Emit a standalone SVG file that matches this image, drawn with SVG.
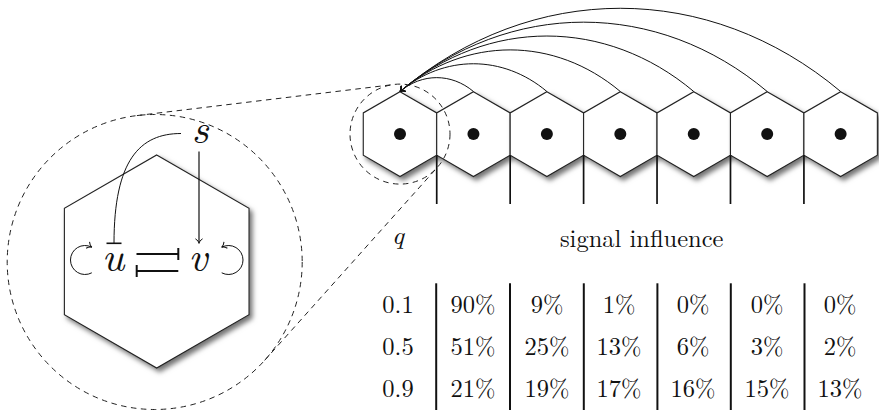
<svg xmlns="http://www.w3.org/2000/svg" width="879" height="412" viewBox="0 0 879 412">
<style>
.hex{fill:#fff;stroke:#222;stroke-width:1.1}
.dash{fill:none;stroke:#222;stroke-width:1;stroke-dasharray:5.5 4.5}
.arc{fill:none;stroke:#111;stroke-width:1}
.thick{stroke:#111;stroke-width:2;fill:none}
.tick{stroke:#111;stroke-width:1.7}
.t{font-family:"Latin Modern Roman","CMU Serif","Nimbus Roman","FreeSerif","Tinos","Times New Roman","Liberation Serif","DejaVu Serif",serif;fill:#111}
.m{font-style:italic}
.big{font-size:42px;text-anchor:middle}
.cell{font-size:24.5px;text-anchor:middle}
</style>
<defs>
<filter id="sh" x="-20%" y="-20%" width="150%" height="150%">
<feDropShadow dx="3" dy="3.5" stdDeviation="2.5" flood-color="#000" flood-opacity="0.55"/>
</filter>
<polygon id="hx" points="0,-42.4 36.72,-21.2 36.72,21.2 0,42.4 -36.72,21.2 -36.72,-21.2"/>
<marker id="ar" markerUnits="userSpaceOnUse" markerWidth="12" markerHeight="12" viewBox="-6 -6 12 12" refX="0" refY="0" orient="auto">
<path d="M-4.5,-3.6 C-3,-1.2 -1.2,-0.3 0,0 C-1.2,0.3 -3,1.2 -4.5,3.6" fill="none" stroke="#111" stroke-width="1"/>
</marker>
</defs>

<!-- enlarged cell -->
<g id="cell-big">
<polygon class="hex" filter="url(#sh)" points="156.7,154.9 249.02,208.2 249.02,314.8 156.7,368.1 64.38,314.8 64.38,208.2"/>
</g>
<g id="node-s"><text class="t m big" x="200" y="143">s</text></g>
<g id="node-u"><text class="t m big" x="113" y="271">u</text></g>
<g id="node-v"><text class="t m big" x="198" y="271">v</text></g>

<!-- row of cells -->
<g id="cells">
<g id="cell0"><use href="#hx" class="hex" filter="url(#sh)" transform="translate(400,134.1)"/><circle cx="400" cy="134.1" r="6" fill="#111"/></g>
<g id="cell1"><use href="#hx" class="hex" filter="url(#sh)" transform="translate(473.44,134.1)"/><circle cx="473.44" cy="134.1" r="6" fill="#111"/></g>
<g id="cell2"><use href="#hx" class="hex" filter="url(#sh)" transform="translate(546.88,134.1)"/><circle cx="546.88" cy="134.1" r="6" fill="#111"/></g>
<g id="cell3"><use href="#hx" class="hex" filter="url(#sh)" transform="translate(620.32,134.1)"/><circle cx="620.32" cy="134.1" r="6" fill="#111"/></g>
<g id="cell4"><use href="#hx" class="hex" filter="url(#sh)" transform="translate(693.76,134.1)"/><circle cx="693.76" cy="134.1" r="6" fill="#111"/></g>
<g id="cell5"><use href="#hx" class="hex" filter="url(#sh)" transform="translate(767.2,134.1)"/><circle cx="767.2" cy="134.1" r="6" fill="#111"/></g>
<g id="cell6"><use href="#hx" class="hex" filter="url(#sh)" transform="translate(840.64,134.1)"/><circle cx="840.64" cy="134.1" r="6" fill="#111"/></g>
</g>

<!-- zoom circles and tangent lines -->
<g id="zoom">
<circle class="dash" cx="154.7" cy="262" r="147.5"/>
<circle class="dash" cx="400" cy="134.1" r="50"/>
<line class="dash" x1="136.9" y1="115.6" x2="394" y2="84.5"/>
<line class="dash" x1="264.6" y1="360.4" x2="437.3" y2="167.4"/>
</g>

<!-- dividers under cells -->
<g id="ticks">
<line class="tick" x1="436.72" y1="155.3" x2="436.72" y2="204"/>
<line class="tick" x1="510.16" y1="155.3" x2="510.16" y2="204"/>
<line class="tick" x1="583.6" y1="155.3" x2="583.6" y2="204"/>
<line class="tick" x1="657.04" y1="155.3" x2="657.04" y2="204"/>
<line class="tick" x1="730.48" y1="155.3" x2="730.48" y2="204"/>
<line class="tick" x1="803.92" y1="155.3" x2="803.92" y2="204"/>
</g>

<!-- connectors -->
<g id="connectors">
<path class="arc" marker-end="url(#ar)" d="M473.44,91.5 C451.42,73.01 422.02,73.01 400,91.5"/>
<path class="arc" marker-end="url(#ar)" d="M546.88,91.5 C502.84,54.52 444.04,54.52 400,91.5"/>
<path class="arc" marker-end="url(#ar)" d="M620.32,91.5 C554.26,36.03 466.06,36.03 400,91.5"/>
<path class="arc" marker-end="url(#ar)" d="M693.76,91.5 C605.68,17.54 488.08,17.54 400,91.5"/>
<path class="arc" marker-end="url(#ar)" d="M767.2,91.5 C657.1,-0.95 510.1,-0.95 400,91.5"/>
<path class="arc" marker-end="url(#ar)" d="M840.64,91.5 C708.52,-19.44 532.12,-19.44 400,91.5"/>

<path class="arc" d="M181,133.5 C140,133.5 114,160 114,243.3"/>
<line x1="106.5" y1="243.3" x2="121.5" y2="243.3" stroke="#111" stroke-width="1.6"/>
<line class="arc" x1="199" y1="151.5" x2="199" y2="243.3" marker-end="url(#ar)" style="stroke-width:1.2"/>
<line class="thick" x1="136.5" y1="254" x2="178.3" y2="254"/>
<line class="thick" x1="178.3" y1="248" x2="178.3" y2="260"/>
<line class="thick" x1="136.7" y1="271" x2="178.3" y2="271"/>
<line class="thick" x1="136.7" y1="265" x2="136.7" y2="277"/>
<path class="arc" marker-end="url(#ar)" d="M91.8,272.8 A14.5,14.5 0 1 1 91.8,247.2"/>
<path class="arc" marker-end="url(#ar)" d="M221.7,272.8 A14.5,14.5 0 1 0 221.7,247.2"/>
</g>

<!-- table -->
<g id="table">
<text class="t m cell" x="398" y="244" style="font-size:26px">q</text>
<text class="t cell" x="641.7" y="247">signal influence</text>
<line class="thick" x1="436.2" y1="283.3" x2="436.2" y2="410"/>
<line class="thick" x1="510" y1="283.3" x2="510" y2="410"/>
<line class="thick" x1="583.8" y1="283.3" x2="583.8" y2="410"/>
<line class="thick" x1="657.4" y1="283.3" x2="657.4" y2="410"/>
<line class="thick" x1="730.8" y1="283.3" x2="730.8" y2="410"/>
<line class="thick" x1="804.5" y1="283.3" x2="804.5" y2="410"/>
<g class="t cell">
<text x="398" y="313.3">0.1</text>
<text x="473" y="313.3">90%</text>
<text x="547" y="313.3">9%</text>
<text x="619" y="313.3">1%</text>
<text x="693" y="313.3">0%</text>
<text x="767" y="313.3">0%</text>
<text x="840" y="313.3">0%</text>
<text x="398" y="355">0.5</text>
<text x="473" y="355">51%</text>
<text x="547" y="355">25%</text>
<text x="619" y="355">13%</text>
<text x="693" y="355">6%</text>
<text x="767" y="355">3%</text>
<text x="840" y="355">2%</text>
<text x="398" y="396.7">0.9</text>
<text x="473" y="396.7">21%</text>
<text x="547" y="396.7">19%</text>
<text x="619" y="396.7">17%</text>
<text x="693" y="396.7">16%</text>
<text x="767" y="396.7">15%</text>
<text x="840" y="396.7">13%</text>
</g>
</g>
</svg>
